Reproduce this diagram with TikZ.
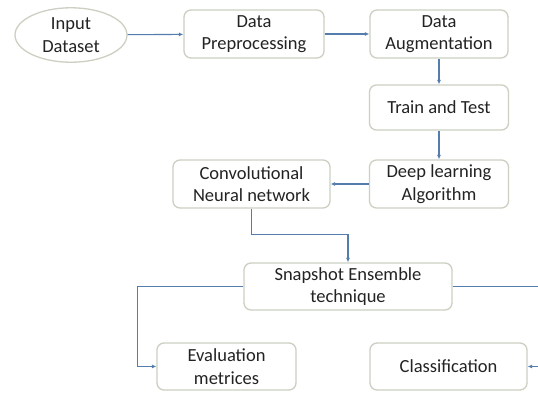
\documentclass[tikz,border=0pt]{standalone}
\usepackage{fontspec}
\setmainfont{Carlito}
\usetikzlibrary{shapes.geometric,arrows.meta}
\definecolor{boxline}{RGB}{204,208,194}
\definecolor{linkblue}{RGB}{84,124,172}
\definecolor{txt}{RGB}{35,35,35}
\tikzset{
  stepbox/.style={draw=boxline, line width=1.3pt, rounded corners=7pt, fill=white,
    text=txt, align=center, font=\fontsize{18.5}{22.5}\selectfont, inner sep=2pt},
  startnode/.style={stepbox, ellipse, rounded corners=0pt},
  link/.style={draw=linkblue, line width=1.1pt, -{Latex[length=4.5pt,width=4pt]}}
}
\begin{document}
\begin{tikzpicture}[x=1pt,y=-1pt]
  \clip (0,0) rectangle (538,394);
  \fill[white] (0,0) rectangle (538,394);

  % flow stages
  \node[startnode, minimum width=112pt, minimum height=50pt] (in) at (71,35) {Input\\Dataset};
  \node[stepbox, minimum width=140pt, minimum height=48pt] (pre) at (254,34) {Data\\Preprocessing};
  \node[stepbox, minimum width=138pt, minimum height=48pt] (aug) at (439,34) {Data\\Augmentation};
  \node[stepbox, minimum width=139pt, minimum height=45pt] (tt) at (439,107.5) {Train and Test};
  \node[stepbox, minimum width=139pt, minimum height=48pt] (dl) at (439,184) {Deep learning\\Algorithm};
  \node[stepbox, minimum width=157pt, minimum height=48pt] (cnn) at (251.5,184) {Convolutional\\Neural network};
  \node[stepbox, minimum width=208pt, minimum height=47pt] (snap) at (348,286.5) {Snapshot Ensemble\\technique};
  \node[stepbox, minimum width=139pt, minimum height=47pt] (eval) at (226.5,366.5) {Evaluation\\metrices};
  \node[stepbox, minimum width=157pt, minimum height=47pt] (cls) at (448.5,366.5) {Classification};

  % connectors
  \draw[link] (in) -- (pre);
  \draw[link] (pre) -- (aug);
  \draw[link] (aug) -- (tt);
  \draw[link] (tt) -- (dl);
  \draw[link] (dl) -- (cnn);
  \draw[link] (cnn.south) -- ++(0,26) -| (snap.north);
  \draw[link] (snap.west) -- ++(-106,0) |- (eval.west);
  \draw[link] (snap.east) -- ++(92,0) |- (cls.east);
\end{tikzpicture}
\end{document}
